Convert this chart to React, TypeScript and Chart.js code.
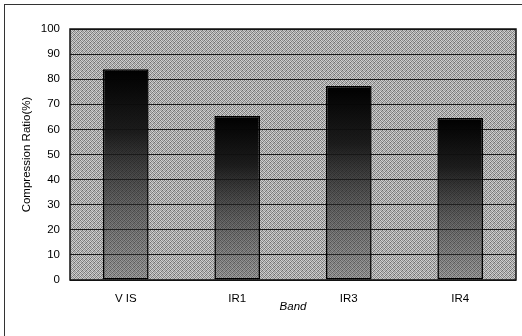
import React, { useEffect, useRef } from "react";
import { Chart, registerables } from "chart.js";

Chart.register(...registerables);

const categories = ["V IS", "IR1", "IR3", "IR4"];
const compressionRatio = [84, 65.3, 77.3, 64.5];
const yMin = 0;
const yMax = 100;
const yStep = 10;
const yTitle = "Compression Ratio(%)";
const xTitle = "Band";

const FONT = "'Liberation Sans', Arial, sans-serif";
const FS = 11.5;

function makePattern(ctx: CanvasRenderingContext2D) {
  const c = document.createElement("canvas");
  c.width = 4;
  c.height = 4;
  const g = c.getContext("2d")!;
  const vals = [
    [120, 210, 150, 195],
    [200, 140, 215, 125],
    [160, 190, 110, 205],
    [215, 120, 185, 150],
  ];
  for (let y = 0; y < 4; y++) {
    for (let x = 0; x < 4; x++) {
      const v = vals[y][x];
      g.fillStyle = `rgb(${v},${v},${v})`;
      g.fillRect(x, y, 1, 1);
    }
  }
  return ctx.createPattern(c, "repeat");
}

const bgPlugin = {
  id: "plotBg",
  beforeDraw(chart: any) {
    const { ctx, chartArea } = chart;
    if (!chartArea) return;
    ctx.save();
    const p = makePattern(ctx);
    ctx.fillStyle = p || "#a5a5a5";
    ctx.fillRect(chartArea.left, chartArea.top, chartArea.right - chartArea.left, chartArea.bottom - chartArea.top);
    ctx.restore();
  },
  afterDraw(chart: any) {
    const { ctx, chartArea } = chart;
    ctx.save();
    ctx.strokeStyle = "#111";
    ctx.lineWidth = 1.5;
    ctx.strokeRect(chartArea.left, chartArea.top, chartArea.right - chartArea.left, chartArea.bottom - chartArea.top);
    ctx.restore();
  },
};

export default function App() {
  const ref = useRef<HTMLCanvasElement>(null);
  useEffect(() => {
    const canvas = ref.current!;
    const chart = new Chart(canvas, {
      type: "bar",
      data: {
        labels: categories,
        datasets: [
          {
            data: compressionRatio,
            backgroundColor: (c: any) => {
              const chartObj = c.chart;
              const area = chartObj.chartArea;
              if (!area || c.parsed === undefined) return "#444";
              const ys = chartObj.scales.y;
              const top = ys.getPixelForValue(c.parsed.y);
              const bottom = ys.getPixelForValue(0);
              const g = chartObj.ctx.createLinearGradient(0, top, 0, bottom);
              g.addColorStop(0, "rgba(0,0,0,1)");
              g.addColorStop(0.3, "rgba(20,20,20,0.95)");
              g.addColorStop(0.65, "rgba(40,40,40,0.6)");
              g.addColorStop(1, "rgba(60,60,60,0.3)");
              return g;
            },
            borderColor: "#000",
            borderWidth: 1.5,
            borderSkipped: false,
            barPercentage: 0.5,
            categoryPercentage: 0.82,
          },
        ],
      },
      options: {
        responsive: false,
        animation: false,
        layout: { padding: { left: 5, right: 6, top: 29, bottom: 0 } },
        plugins: { legend: { display: false }, tooltip: { enabled: false } },
        scales: {
          x: {
            grid: { display: false, drawTicks: false },
            border: { display: false },
            ticks: { color: "#000", font: { family: FONT, size: FS }, padding: 12 },
            title: {
              display: true,
              text: xTitle,
              color: "#000",
              font: { family: FONT, size: FS, style: "italic" },
              padding: { top: 0, bottom: 22 },
            },
            afterFit: (s: any) => {
              s.height = 56;
            },
          },
          y: {
            min: yMin,
            max: yMax,
            ticks: {
              stepSize: yStep,
              color: "#000",
              font: { family: FONT, size: FS },
              padding: 10,
            },
            grid: { color: "#1a1a1a", lineWidth: 1, drawTicks: false },
            border: { display: false },
            title: {
              display: true,
              text: yTitle,
              color: "#000",
              font: { family: FONT, size: FS },
              padding: { top: 15, bottom: 0 },
            },
            afterFit: (s: any) => {
              s.width = 65;
            },
          },
        },
      },
      plugins: [bgPlugin],
    });
    return () => chart.destroy();
  }, []);
  return (
    <div style={{ position: "fixed", left: 0, top: 0, width: 522, height: 336, background: "#fff", overflow: "hidden" }}>
      <div
        style={{
          position: "absolute",
          left: 4,
          top: 4,
          width: 600,
          height: 400,
          borderTop: "1.5px solid #333",
          borderLeft: "1.5px solid #333",
        }}
      />
      <canvas ref={ref} width={522} height={336} style={{ position: "absolute", left: 0, top: 0 }} />
    </div>
  );
}
